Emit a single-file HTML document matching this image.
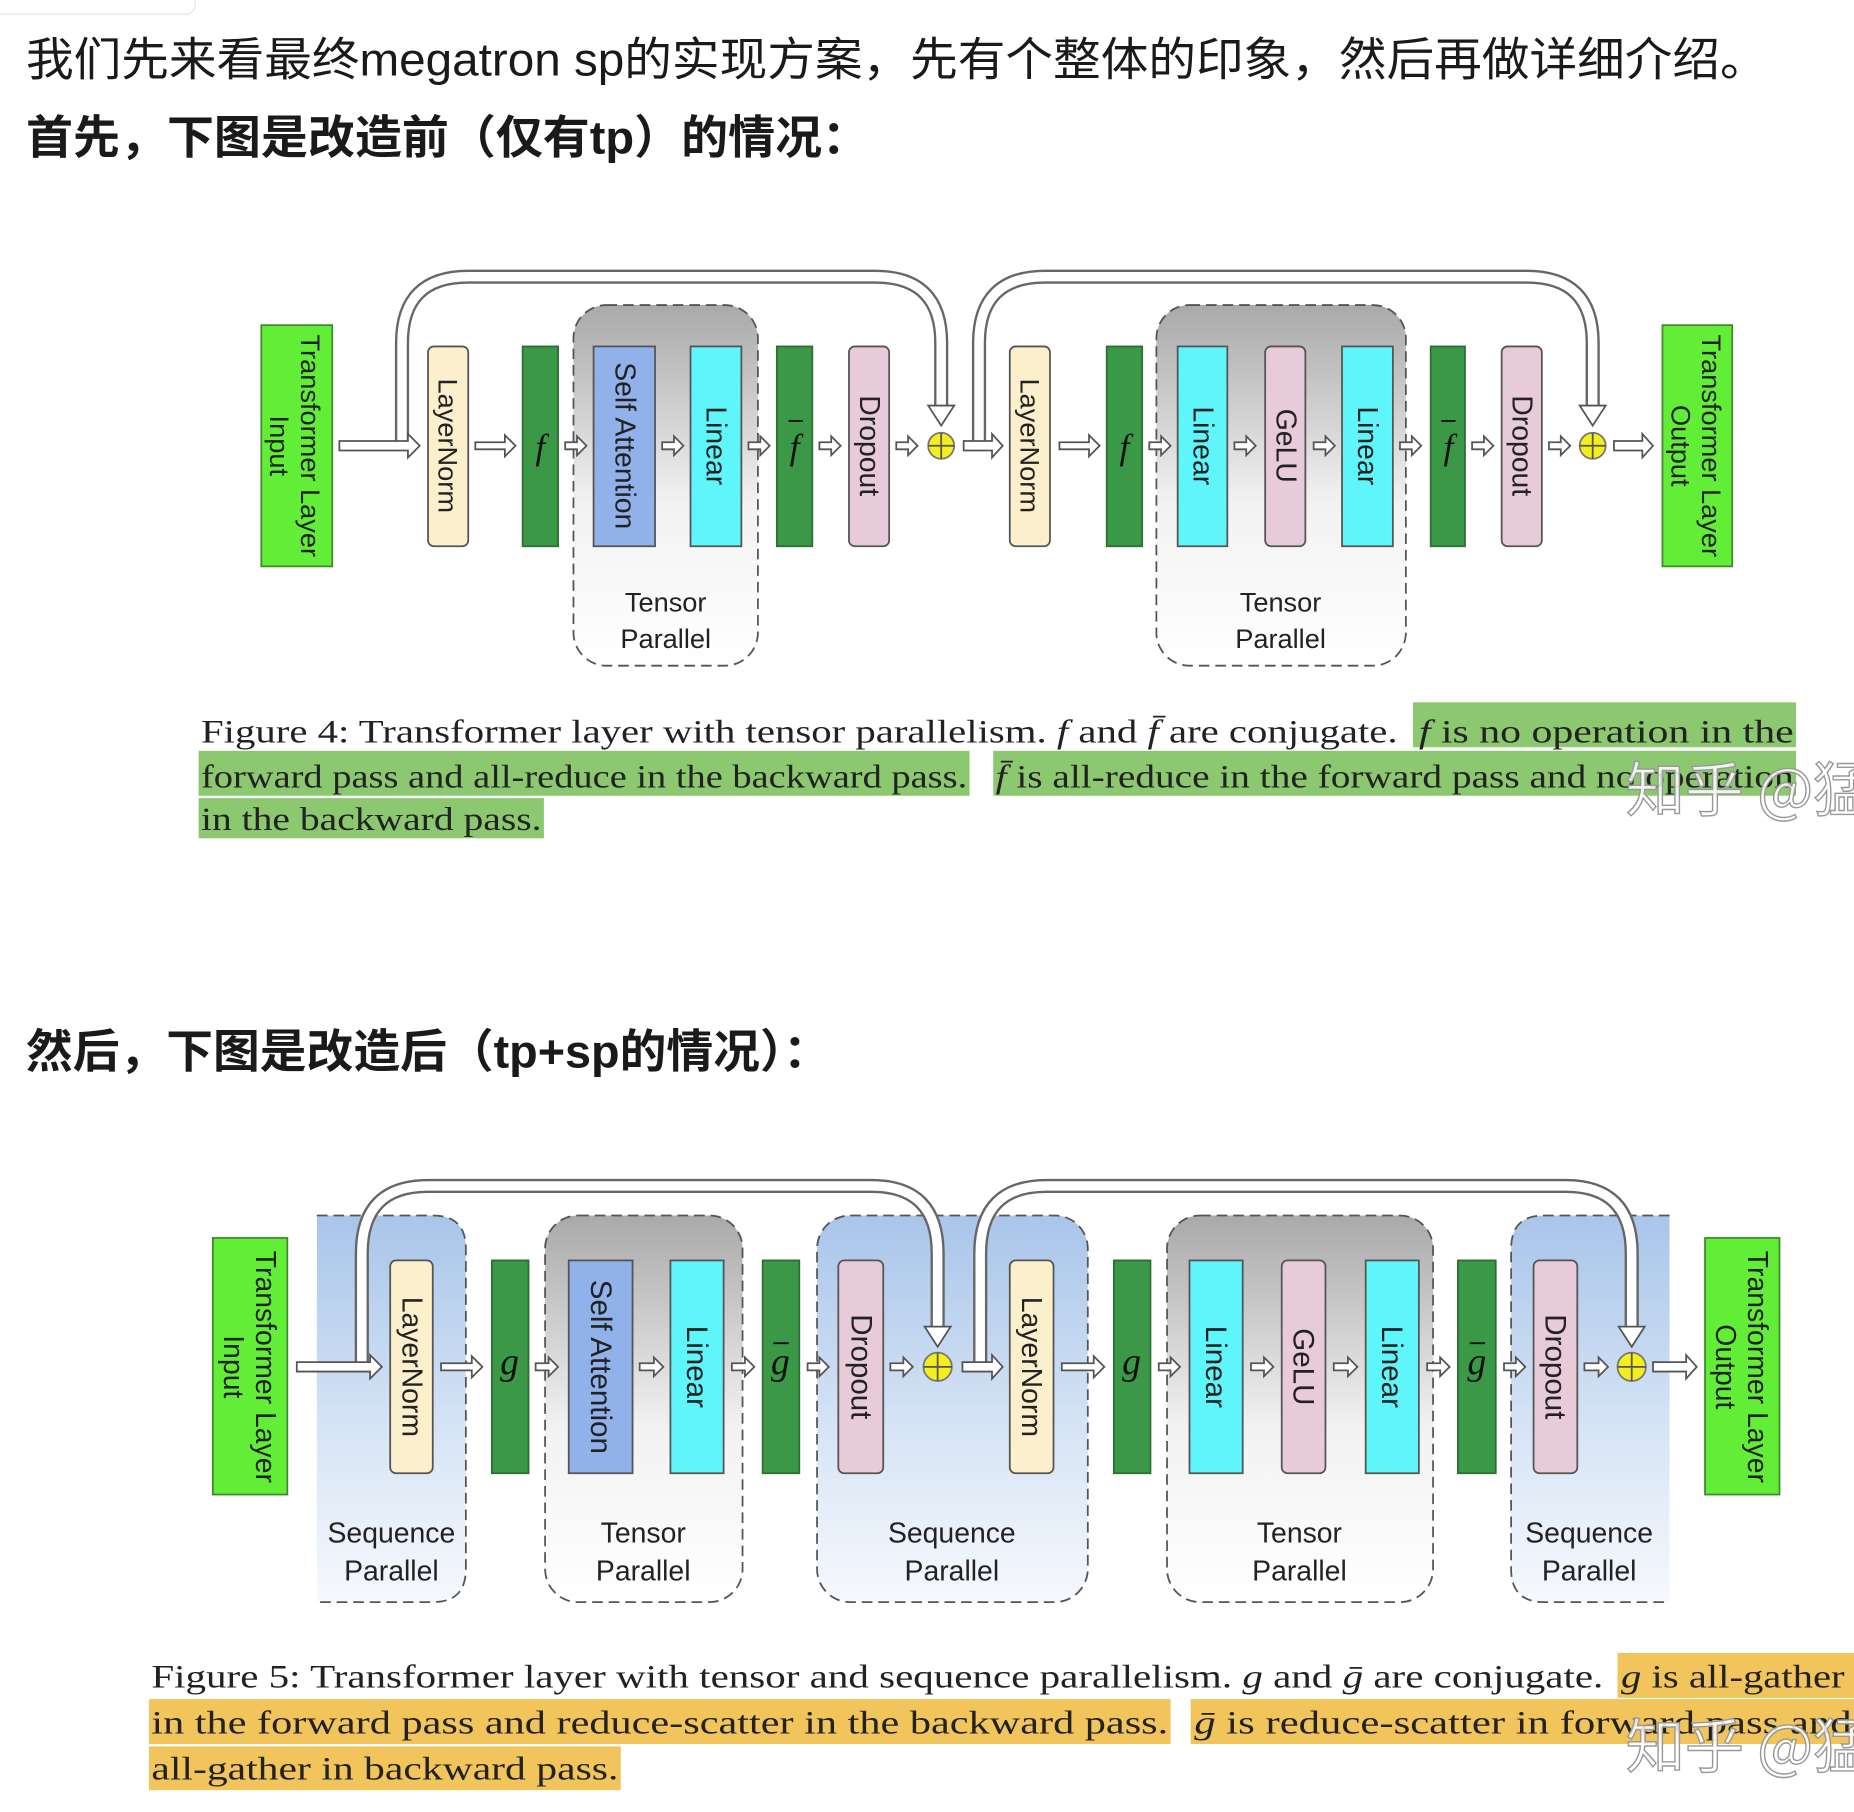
<!DOCTYPE html>
<html><head><meta charset="utf-8"><style>html,body{margin:0;padding:0;background:#fff}svg{display:block}</style></head><body>
<svg width="1854" height="1812" viewBox="0 0 1568 1532.5" preserveAspectRatio="none" xmlns="http://www.w3.org/2000/svg">
<defs>
<linearGradient id="tp" x1="0" y1="0" x2="0" y2="1"><stop offset="0" stop-color="#a9a9a9"/><stop offset="0.55" stop-color="#f2f2f2"/><stop offset="1" stop-color="#ffffff"/></linearGradient>
<linearGradient id="sp" x1="0" y1="0" x2="0" y2="1"><stop offset="0" stop-color="#a9c5ea"/><stop offset="0.55" stop-color="#d6e4f5"/><stop offset="1" stop-color="#f6f9fd"/></linearGradient>
</defs>
<rect x="-10" y="-10" width="175" height="22" rx="8" fill="#fff" stroke="#e4e4e4"/>
<g font-family="'Liberation Sans','Noto Sans CJK SC',sans-serif" fill="#1a1a1a">
<text x="22" y="64" font-size="39" textLength="1473" lengthAdjust="spacingAndGlyphs">我们先来看最终megatron sp的实现方案，先有个整体的印象，然后再做详细介绍。</text>
<text x="22" y="130" font-size="39" font-weight="bold" textLength="713" lengthAdjust="spacingAndGlyphs">首先，下图是改造前（仅有tp）的情况：</text>
<text x="22" y="903" font-size="39" font-weight="bold" textLength="680" lengthAdjust="spacingAndGlyphs">然后，下图是改造后（tp+sp的情况）：</text>
</g>

<!-- ============ FIGURE 4 ============ -->
<g stroke="#555" stroke-width="1.5">
<rect x="485" y="258" width="156" height="305" rx="28" fill="url(#tp)" stroke-dasharray="9 5"/>
<rect x="978" y="258" width="211" height="305" rx="28" fill="url(#tp)" stroke-dasharray="9 5"/>
</g>
<!-- skip arcs -->
<g fill="none" stroke-linejoin="round">
<path d="M340 377 V290 Q340 234 396 234 H740 Q796 234 796 290 V345" stroke="#666" stroke-width="12"/>
<path d="M340 377 V290 Q340 234 396 234 H740 Q796 234 796 290 V345" stroke="#fff" stroke-width="8"/>
<path d="M828 377 V290 Q828 234 884 234 H1291 Q1347 234 1347 290 V345" stroke="#666" stroke-width="12"/>
<path d="M828 377 V290 Q828 234 884 234 H1291 Q1347 234 1347 290 V345" stroke="#fff" stroke-width="8"/>
</g>
<g fill="#fff" stroke="#555" stroke-width="1.5">
<polygon points="785,343 807,343 796,360"/><polygon points="1336,343 1358,343 1347,360"/>
<!-- arrows -->
<polygon points="287,373 345,373 345,367 355,377 345,387 345,381 287,381"/>
<polygon points="402,374 427,374 427,368 436,377 427,386 427,380 402,380"/>
<polygon points="478,374 488,374 488,369 496,377 488,385 488,380 478,380"/>
<polygon points="560,374 570,374 570,369 578,377 570,385 570,380 560,380"/>
<polygon points="633,374 643,374 643,369 651,377 643,385 643,380 633,380"/>
<polygon points="693,374 703,374 703,369 711,377 703,385 703,380 693,380"/>
<polygon points="758,374 768,374 768,369 776,377 768,385 768,380 758,380"/>
<polygon points="815,373 839,373 839,367 848,377 839,387 839,381 815,381"/>
<polygon points="896,374 921,374 921,368 930,377 921,386 921,380 896,380"/>
<polygon points="972,374 982,374 982,369 990,377 982,385 982,380 972,380"/>
<polygon points="1044,374 1054,374 1054,369 1062,377 1054,385 1054,380 1044,380"/>
<polygon points="1111,374 1121,374 1121,369 1129,377 1121,385 1121,380 1111,380"/>
<polygon points="1184,374 1194,374 1194,369 1202,377 1194,385 1194,380 1184,380"/>
<polygon points="1245,374 1255,374 1255,369 1263,377 1255,385 1255,380 1245,380"/>
<polygon points="1310,374 1320,374 1320,369 1328,377 1320,385 1320,380 1310,380"/>
<polygon points="1365,373 1389,373 1389,367 1398,377 1389,387 1389,381 1365,381"/>
</g>
<g stroke="#555" stroke-width="1.5">
<rect x="221" y="275" width="60" height="204" fill="#62ee36" stroke="#3f8a2a"/>
<rect x="1406" y="275" width="59" height="204" fill="#62ee36" stroke="#3f8a2a"/>
<rect x="362" y="293" width="34" height="169" rx="5" fill="#fcefcc"/>
<rect x="442" y="293" width="30" height="169" fill="#3a9846" stroke="#2d6e34"/>
<rect x="502" y="293" width="52" height="169" fill="#91b1ea"/>
<rect x="584" y="293" width="43" height="169" fill="#5ef6fa"/>
<rect x="657" y="293" width="30" height="169" fill="#3a9846" stroke="#2d6e34"/>
<rect x="718" y="293" width="34" height="169" rx="5" fill="#e8cbd8"/>
<rect x="854" y="293" width="34" height="169" rx="5" fill="#fcefcc"/>
<rect x="936" y="293" width="30" height="169" fill="#3a9846" stroke="#2d6e34"/>
<rect x="996" y="293" width="42" height="169" fill="#5ef6fa"/>
<rect x="1070" y="293" width="34" height="169" rx="5" fill="#e8cbd8"/>
<rect x="1135" y="293" width="43" height="169" fill="#5ef6fa"/>
<rect x="1210" y="293" width="29" height="169" fill="#3a9846" stroke="#2d6e34"/>
<rect x="1270" y="293" width="34" height="169" rx="5" fill="#e8cbd8"/>
<circle cx="796" cy="377" r="11" fill="#f4ee1c" stroke="#777"/>
<circle cx="1347" cy="377" r="11" fill="#f4ee1c" stroke="#777"/>
<path d="M785 377 H807 M796 366 V388 M1336 377 H1358 M1347 366 V388" stroke="#555"/>
</g>
<g font-family="'Liberation Sans',sans-serif" font-size="23" fill="#222" text-anchor="middle" dominant-baseline="central">
<text transform="translate(251,377) rotate(90)"><tspan x="0" y="-12">Transformer Layer</tspan><tspan x="0" y="14">Input</tspan></text>
<text transform="translate(1436,377) rotate(90)"><tspan x="0" y="-12">Transformer Layer</tspan><tspan x="0" y="14">Output</tspan></text>
<text transform="translate(379,377) rotate(90)">LayerNorm</text>
<text transform="translate(528,377) rotate(90)" font-size="24">Self Attention</text>
<text transform="translate(605,377) rotate(90)" font-size="24">Linear</text>
<text transform="translate(735,377) rotate(90)" font-size="24">Dropout</text>
<text transform="translate(871,377) rotate(90)">LayerNorm</text>
<text transform="translate(1017,377) rotate(90)" font-size="24">Linear</text>
<text transform="translate(1087,377) rotate(90)" font-size="24">GeLU</text>
<text transform="translate(1156,377) rotate(90)" font-size="24">Linear</text>
<text transform="translate(1287,377) rotate(90)" font-size="24">Dropout</text>
<text x="563" y="509">Tensor</text><text x="563" y="540">Parallel</text>
<text x="1083" y="509">Tensor</text><text x="1083" y="540">Parallel</text>
</g>
<g font-family="'Liberation Serif',serif" font-style="italic" font-size="30" fill="#111" text-anchor="middle">
<text x="457" y="388">f</text><text x="672" y="388">f</text><text x="951" y="388">f</text><text x="1225" y="388">f</text>
</g>
<path d="M667 356 H679 M1219 356 H1231" stroke="#111" stroke-width="1.5"/>

<!-- caption 4 -->
<g fill="#8cc870">
<rect x="1195" y="594" width="324" height="38"/>
<rect x="168" y="635" width="652" height="38"/>
<rect x="840" y="635" width="679" height="38"/>
<rect x="168" y="675" width="292" height="34"/>
</g>
<g font-family="'Liberation Serif',serif" font-size="28" fill="#222">
<text x="170" y="628" textLength="1012" lengthAdjust="spacingAndGlyphs">Figure 4: Transformer layer with tensor parallelism. <tspan font-style="italic">f</tspan> and <tspan font-style="italic">f̄</tspan> are conjugate.</text>
<text x="1200" y="628" textLength="317" lengthAdjust="spacingAndGlyphs"><tspan font-style="italic">f</tspan> is no operation in the</text>
<text x="170" y="666" textLength="648" lengthAdjust="spacingAndGlyphs">forward pass and all-reduce in the backward pass.</text>
<text x="842" y="666" textLength="675" lengthAdjust="spacingAndGlyphs"><tspan font-style="italic">f̄</tspan> is all-reduce in the forward pass and no operation</text>
<text x="170" y="702" textLength="288" lengthAdjust="spacingAndGlyphs">in the backward pass.</text>
</g>
<text x="1375" y="686" font-family="'Noto Sans CJK SC',sans-serif" font-size="50" fill="#fff" fill-opacity="0.85" stroke="#999" stroke-width="1.2">知乎 @猛</text>

<!-- ============ FIGURE 5 ============ -->
<g stroke="#555" stroke-width="1.5" stroke-dasharray="9 5">
<path d="M268 1028 H366 Q394 1028 394 1056 V1327 Q394 1355 366 1355 H268 Z" fill="url(#sp)" stroke="none"/>
<path d="M268 1028 H366 Q394 1028 394 1056 V1327 Q394 1355 366 1355 H268" fill="none"/>
<rect x="461" y="1028" width="167" height="327" rx="28" fill="url(#tp)"/>
<rect x="691" y="1028" width="229" height="327" rx="28" fill="url(#sp)"/>
<rect x="987" y="1028" width="225" height="327" rx="28" fill="url(#tp)"/>
<path d="M1412 1028 H1306 Q1278 1028 1278 1056 V1327 Q1278 1355 1306 1355 H1412 Z" fill="url(#sp)" stroke="none"/>
<path d="M1412 1028 H1306 Q1278 1028 1278 1056 V1327 Q1278 1355 1306 1355 H1412" fill="none"/>
</g>
<g fill="none" stroke-linejoin="round">
<path d="M306 1156 V1060 Q306 1003 362 1003 H737 Q793 1003 793 1060 V1124" stroke="#666" stroke-width="12"/>
<path d="M306 1156 V1060 Q306 1003 362 1003 H737 Q793 1003 793 1060 V1124" stroke="#fff" stroke-width="8"/>
<path d="M829 1156 V1060 Q829 1003 885 1003 H1324 Q1380 1003 1380 1060 V1124" stroke="#666" stroke-width="12"/>
<path d="M829 1156 V1060 Q829 1003 885 1003 H1324 Q1380 1003 1380 1060 V1124" stroke="#fff" stroke-width="8"/>
</g>
<g fill="#fff" stroke="#555" stroke-width="1.5">
<polygon points="782,1122 804,1122 793,1139"/><polygon points="1369,1122 1391,1122 1380,1139"/>
<polygon points="251,1152 313,1152 313,1146 323,1156 313,1166 313,1160 251,1160"/>
<polygon points="373,1153 399,1153 399,1147 408,1156 399,1165 399,1159 373,1159"/>
<polygon points="453,1153 464,1153 464,1148 472,1156 464,1164 464,1159 453,1159"/>
<polygon points="541,1153 553,1153 553,1148 561,1156 553,1164 553,1159 541,1159"/>
<polygon points="619,1153 630,1153 630,1148 638,1156 630,1164 630,1159 619,1159"/>
<polygon points="683,1153 693,1153 693,1148 701,1156 693,1164 693,1159 683,1159"/>
<polygon points="753,1153 764,1153 764,1148 772,1156 764,1164 764,1159 753,1159"/>
<polygon points="814,1152 839,1152 839,1146 848,1156 839,1166 839,1160 814,1160"/>
<polygon points="898,1153 925,1153 925,1147 934,1156 925,1165 925,1159 898,1159"/>
<polygon points="980,1153 990,1153 990,1148 998,1156 990,1164 990,1159 980,1159"/>
<polygon points="1058,1153 1069,1153 1069,1148 1077,1156 1069,1164 1069,1159 1058,1159"/>
<polygon points="1128,1153 1140,1153 1140,1148 1148,1156 1140,1164 1140,1159 1128,1159"/>
<polygon points="1207,1153 1218,1153 1218,1148 1226,1156 1218,1164 1218,1159 1207,1159"/>
<polygon points="1272,1153 1282,1153 1282,1148 1290,1156 1282,1164 1282,1159 1272,1159"/>
<polygon points="1340,1153 1352,1153 1352,1148 1360,1156 1352,1164 1352,1159 1340,1159"/>
<polygon points="1398,1152 1426,1152 1426,1146 1435,1156 1426,1166 1426,1160 1398,1160"/>
</g>
<g stroke="#555" stroke-width="1.5">
<rect x="180" y="1047" width="63" height="217" fill="#62ee36" stroke="#3f8a2a"/>
<rect x="1442" y="1047" width="63" height="217" fill="#62ee36" stroke="#3f8a2a"/>
<rect x="330" y="1066" width="36" height="180" rx="5" fill="#fcefcc"/>
<rect x="416" y="1066" width="31" height="180" fill="#3a9846" stroke="#2d6e34"/>
<rect x="481" y="1066" width="54" height="180" fill="#91b1ea"/>
<rect x="567" y="1066" width="45" height="180" fill="#5ef6fa"/>
<rect x="645" y="1066" width="31" height="180" fill="#3a9846" stroke="#2d6e34"/>
<rect x="709" y="1066" width="38" height="180" rx="5" fill="#e8cbd8"/>
<rect x="854" y="1066" width="37" height="180" rx="5" fill="#fcefcc"/>
<rect x="942" y="1066" width="31" height="180" fill="#3a9846" stroke="#2d6e34"/>
<rect x="1006" y="1066" width="45" height="180" fill="#5ef6fa"/>
<rect x="1084" y="1066" width="37" height="180" rx="5" fill="#e8cbd8"/>
<rect x="1155" y="1066" width="45" height="180" fill="#5ef6fa"/>
<rect x="1233" y="1066" width="32" height="180" fill="#3a9846" stroke="#2d6e34"/>
<rect x="1297" y="1066" width="37" height="180" rx="5" fill="#e8cbd8"/>
<circle cx="793" cy="1156" r="12" fill="#f4ee1c" stroke="#777"/>
<circle cx="1380" cy="1156" r="12" fill="#f4ee1c" stroke="#777"/>
<path d="M781 1156 H805 M793 1144 V1168 M1368 1156 H1392 M1380 1144 V1168" stroke="#555"/>
</g>
<g font-family="'Liberation Sans',sans-serif" font-size="24" fill="#222" text-anchor="middle" dominant-baseline="central">
<text transform="translate(211,1156) rotate(90)"><tspan x="0" y="-13">Transformer Layer</tspan><tspan x="0" y="14">Input</tspan></text>
<text transform="translate(1473,1156) rotate(90)"><tspan x="0" y="-13">Transformer Layer</tspan><tspan x="0" y="14">Output</tspan></text>
<text transform="translate(348,1156) rotate(90)">LayerNorm</text>
<text transform="translate(508,1156) rotate(90)" font-size="25">Self Attention</text>
<text transform="translate(589,1156) rotate(90)" font-size="25">Linear</text>
<text transform="translate(728,1156) rotate(90)" font-size="25">Dropout</text>
<text transform="translate(872,1156) rotate(90)">LayerNorm</text>
<text transform="translate(1028,1156) rotate(90)" font-size="25">Linear</text>
<text transform="translate(1102,1156) rotate(90)" font-size="25">GeLU</text>
<text transform="translate(1177,1156) rotate(90)" font-size="25">Linear</text>
<text transform="translate(1315,1156) rotate(90)" font-size="25">Dropout</text>
<text x="331" y="1297">Sequence</text><text x="331" y="1329">Parallel</text>
<text x="544" y="1297">Tensor</text><text x="544" y="1329">Parallel</text>
<text x="805" y="1297">Sequence</text><text x="805" y="1329">Parallel</text>
<text x="1099" y="1297">Tensor</text><text x="1099" y="1329">Parallel</text>
<text x="1344" y="1297">Sequence</text><text x="1344" y="1329">Parallel</text>
</g>
<g font-family="'Liberation Serif',serif" font-style="italic" font-size="32" fill="#111" text-anchor="middle">
<text x="431" y="1162">g</text><text x="660" y="1162">g</text><text x="957" y="1162">g</text><text x="1249" y="1162">g</text>
</g>
<path d="M654 1136 H667 M1243 1136 H1256" stroke="#111" stroke-width="1.5"/>

<!-- caption 5 -->
<g fill="#f2c55c">
<rect x="1368" y="1398" width="200" height="38"/>
<rect x="126" y="1437" width="864" height="38"/>
<rect x="1007" y="1437" width="561" height="38"/>
<rect x="126" y="1477" width="399" height="37"/>
</g>
<g font-family="'Liberation Serif',serif" font-size="28" fill="#222">
<text x="128" y="1427" textLength="1228" lengthAdjust="spacingAndGlyphs">Figure 5: Transformer layer with tensor and sequence parallelism. <tspan font-style="italic">g</tspan> and <tspan font-style="italic">ḡ</tspan> are conjugate.</text>
<text x="1371" y="1427" textLength="189" lengthAdjust="spacingAndGlyphs"><tspan font-style="italic">g</tspan> is all-gather</text>
<text x="128" y="1466" textLength="860" lengthAdjust="spacingAndGlyphs">in the forward pass and reduce-scatter in the backward pass.</text>
<text x="1010" y="1466" textLength="556" lengthAdjust="spacingAndGlyphs"><tspan font-style="italic">ḡ</tspan> is reduce-scatter in forward pass and</text>
<text x="128" y="1505" textLength="395" lengthAdjust="spacingAndGlyphs">all-gather in backward pass.</text>
</g>
<text x="1375" y="1495" font-family="'Noto Sans CJK SC',sans-serif" font-size="50" fill="#fff" fill-opacity="0.85" stroke="#999" stroke-width="1.2">知乎 @猛</text>
</svg>
</body></html>
